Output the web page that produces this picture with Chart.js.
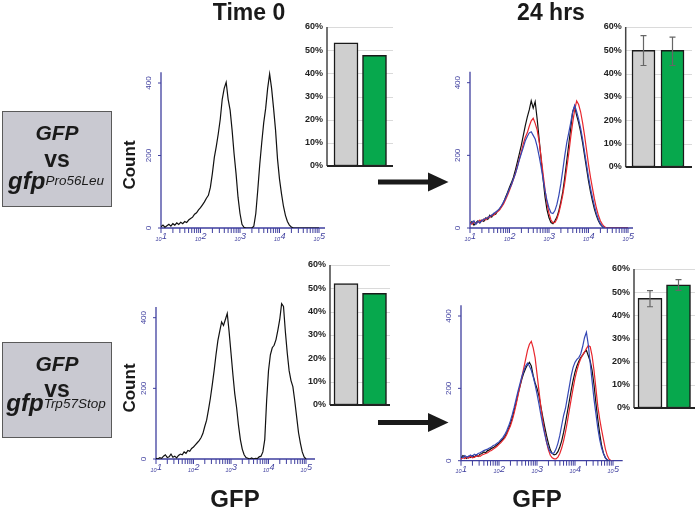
<!DOCTYPE html>
<html><head><meta charset="utf-8">
<script src="https://cdn.jsdelivr.net/npm/chart.js@4.4.1/dist/chart.umd.min.js"></script>
<style>
html,body{margin:0;padding:0;background:#fff}
#wrap{position:relative;width:696px;height:509px;overflow:hidden;font-family:"Liberation Sans",Arial,Helvetica,sans-serif;color:#1a1a1a}
#wrap canvas{position:absolute;left:0;top:0}
.t{position:absolute;white-space:nowrap;line-height:1;font-weight:bold}
.box{position:absolute;background:#c9c9d1;border:1px solid #5a5a5a;box-sizing:border-box}
</style></head>
<body><div id="wrap">
<div class="box" style="left:2px;top:111px;width:110px;height:96px"></div>
<div class="box" style="left:2px;top:342px;width:110px;height:96px"></div>
<canvas id="h1" width="696" height="509"></canvas>
<canvas id="h2" width="696" height="509"></canvas>
<canvas id="h3" width="696" height="509"></canvas>
<canvas id="h4" width="696" height="509"></canvas>
<canvas id="b1" width="696" height="509"></canvas>
<canvas id="b2" width="696" height="509"></canvas>
<canvas id="b3" width="696" height="509"></canvas>
<canvas id="b4" width="696" height="509"></canvas>
<svg width="696" height="509" style="position:absolute;left:0;top:0">
<rect x="378" y="179.5" width="52" height="5" fill="#1a1a1a"/>
<polygon points="428,172.5 448.5,182 428,191.5" fill="#1a1a1a"/>
<rect x="378" y="420" width="52" height="5" fill="#1a1a1a"/>
<polygon points="428,413 448.5,422.5 428,432" fill="#1a1a1a"/>
</svg>
</div>
<script>
// ---------- DATA ----------
const BINS = [1.00,1.05,1.10,1.15,1.20,1.25,1.30,1.35,1.40,1.45,
  1.50,1.55,1.60,1.65,1.70,1.75,1.80,1.85,1.90,1.95,
  2.00,2.05,2.10,2.15,2.20,2.25,2.30,2.35,2.40,2.45,
  2.50,2.55,2.60,2.65,2.70,2.75,2.80,2.85,2.90,2.95,
  3.00,3.05,3.10,3.15,3.20,3.25,3.30,3.35,3.40,3.45,
  3.50,3.55,3.60,3.65,3.70,3.75,3.80,3.85,3.90,3.95,
  4.00,4.05,4.10,4.15,4.20,4.25,4.30,4.35,4.40,4.45,
  4.50,4.55,4.60,4.65,4.70,4.75,4.80,4.85,4.90,4.95,5.00];

const T0_TOP = [3,8,2,6,10,5,12,8,14,10,
  16,12,18,15,22,26,30,38,42,50,
  56,64,72,82,90,112,150,195,225,260,
  300,355,385,402,355,325,270,205,150,85,
  40,10,2,0,0,0,0,5,40,105,
  175,235,290,330,385,425,385,330,270,190,
  135,95,60,35,18,8,3,0,0,0,
  0,0,0,0,0,0,0,0,0,0,0];

const T24_TOP_BLACK = [12,18,8,15,20,14,22,18,28,24,
  35,30,40,38,48,52,60,70,85,98,
  112,125,140,160,182,205,228,255,282,305,
  325,350,330,348,300,245,190,135,85,50,
  28,15,12,20,30,48,72,100,140,185,
  230,275,320,335,310,290,265,235,200,165,
  130,100,75,52,34,20,10,4,0,0,
  0,0,0,0,0,0,0,0,0,0,0];
const T24_TOP_RED = [15,10,18,12,16,22,18,25,22,30,
  28,36,34,42,45,50,58,66,78,90,
  104,118,134,150,170,190,210,232,250,262,
  280,295,302,288,270,238,195,150,105,68,
  40,22,14,15,25,42,65,92,125,165,
  205,250,290,325,350,340,320,290,255,215,
  175,140,110,80,55,35,20,10,4,0,
  0,0,0,0,0,0,0,0,0,0,0];
const T24_TOP_BLUE = [10,14,20,10,18,15,20,24,26,28,
  32,35,40,44,48,54,62,72,82,95,
  108,120,135,150,168,188,205,222,240,252,
  262,265,255,245,225,198,168,135,102,75,
  55,42,40,48,65,90,122,160,200,235,
  262,290,320,338,320,300,275,245,210,175,
  140,110,85,60,40,24,12,5,0,0,
  0,0,0,0,0,0,0,0,0,0,0];

const T0_BOT = [2,0,4,2,8,12,4,6,14,5,
  8,3,10,14,12,20,16,24,22,30,
  34,40,46,52,60,72,92,110,140,172,
  210,250,295,335,362,388,378,395,412,360,
  300,240,185,145,95,55,28,12,4,2,
  0,3,0,2,1,6,8,20,55,165,
  250,295,315,322,338,365,395,440,432,360,
  300,250,222,205,165,120,75,45,20,6,0];

const T24_BOT_BLACK = [8,14,10,6,12,9,14,10,16,12,
  18,20,24,22,28,30,34,36,40,44,
  48,54,60,66,76,88,102,118,140,160,
  185,205,225,242,255,265,272,262,235,215,
  200,180,150,122,95,70,48,30,20,16,
  18,25,38,55,78,105,135,165,195,222,
  245,262,275,285,292,300,305,290,275,250,
  210,160,115,75,42,20,8,2,0,0,0];
const T24_BOT_RED = [5,8,6,10,7,12,8,10,12,14,
  12,16,18,20,22,26,28,32,36,40,
  45,50,56,62,72,84,96,112,132,155,
  180,205,230,255,280,305,322,330,312,285,
  240,195,150,112,80,52,30,15,8,5,
  5,10,20,35,55,80,108,140,170,200,
  228,250,268,282,292,300,310,318,315,290,
  250,200,150,115,85,58,32,14,4,0,0];
const T24_BOT_BLUE = [12,8,14,10,12,16,12,18,15,20,
  22,25,28,30,32,35,38,42,44,48,
  52,58,64,72,82,95,110,128,148,170,
  192,212,232,248,262,270,262,250,232,210,
  185,158,128,100,75,52,35,24,20,22,
  32,48,70,98,125,145,175,205,235,258,
  272,280,285,295,315,340,355,320,270,220,
  170,130,90,58,35,20,8,2,0,0,0];

const HIST_Y_TICKS = [0, 200, 400];
const HIST_DECADES = [1, 2, 3, 4, 5];
const DECADE_EXP = ['1', '2', '3', '4', '5'];

const BAR_CATS = ['GFP', 'gfp mutant'];
const BAR_TICKS = [0, 10, 20, 30, 40, 50, 60];
const BAR_T0_TOP = [53.2, 47.8];
const BAR_24_TOP = [50.0, 50.0];
const BAR_24_TOP_LOW = [43.5, 43.5];
const BAR_24_TOP_HIGH = [56.3, 55.7];
const BAR_T0_BOT = [52.0, 47.9];
const BAR_24_BOT = [47.3, 53.2];
const BAR_24_BOT_LOW = [43.7, 50.8];
const BAR_24_BOT_HIGH = [50.7, 55.4];

// ---------- STYLE ----------
const AXIS_BLUE = '#3f3f9f';
const C_BLACK = '#111111', C_RED = '#e8262d', C_BLUE = '#3548b5';
const BAR_FILLS = ['#cfcfcf', '#07a84d'];
const FONT = '"Liberation Sans", Arial, sans-serif';

function flowAxes(axisTop) {
  return {
    id: 'flowAxes',
    beforeDatasetsDraw(chart) {
      const ctx = chart.ctx, xs = chart.scales.x, ys = chart.scales.y;
      const x0 = xs.getPixelForValue(xs.min), x1 = xs.getPixelForValue(xs.max);
      const y0 = ys.getPixelForValue(0), yT = ys.getPixelForValue(axisTop);
      ctx.save();
      ctx.strokeStyle = AXIS_BLUE; ctx.fillStyle = AXIS_BLUE;
      ctx.lineWidth = 1.3;
      ctx.beginPath(); ctx.moveTo(x0, yT); ctx.lineTo(x0, y0); ctx.lineTo(x1, y0); ctx.stroke();
      ctx.lineWidth = 1;
      for (const v of HIST_Y_TICKS) {
        const y = ys.getPixelForValue(v);
        ctx.beginPath(); ctx.moveTo(x0 - 3, y); ctx.lineTo(x0, y); ctx.stroke();
        ctx.save(); ctx.translate(x0 - 12.5, y); ctx.rotate(-Math.PI / 2);
        ctx.font = '8px ' + FONT; ctx.textAlign = 'center'; ctx.textBaseline = 'middle';
        ctx.fillText(String(v), 0, 0); ctx.restore();
      }
      for (let d = 1; d <= 5; d++) {
        for (let k = 1; k <= 9; k++) {
          if (d === 5 && k > 1) break;
          const x = xs.getPixelForValue(d + Math.log10(k));
          ctx.beginPath(); ctx.moveTo(x, y0); ctx.lineTo(x, y0 + 5); ctx.stroke();
        }
      }
      ctx.textBaseline = 'alphabetic'; ctx.textAlign = 'left';
      HIST_DECADES.forEach((d, i) => {
        const x = xs.getPixelForValue(d);
        ctx.font = 'italic 5.5px ' + FONT; const w1 = ctx.measureText('10').width;
        ctx.font = 'italic 9px ' + FONT; const w2 = ctx.measureText(DECADE_EXP[i]).width;
        const sx = x - (w1 + w2) / 2;
        ctx.font = 'italic 5.5px ' + FONT; ctx.fillText('10', sx, y0 + 12.5);
        ctx.font = 'italic 9px ' + FONT; ctx.fillText(DECADE_EXP[i], sx + w1 + 0.5, y0 + 11.3);
      });
      ctx.restore();
    }
  };
}

function histChart(id, box, series) {
  const xMax = 1 + (box.right - box.left) / box.dec;
  const yMax = 450;
  const top = box.bottom - yMax * box.per400 / 400;
  new Chart(document.getElementById(id), {
    type: 'line',
    data: { datasets: series.map(s => ({
      data: BINS.map((x, i) => ({ x: x, y: s.values[i] })),
      borderColor: s.color, borderWidth: 1.2, pointRadius: 0, tension: 0, fill: false
    })) },
    options: {
      responsive: false, animation: false, events: [],
      layout: { padding: { left: box.left, top: top, right: 696 - box.right, bottom: 509 - box.bottom } },
      plugins: { legend: { display: false }, tooltip: { enabled: false } },
      scales: {
        x: { type: 'linear', min: 1, max: xMax, display: false, offset: false },
        y: { type: 'linear', min: 0, max: yMax, display: false }
      }
    },
    plugins: [flowAxes(430)]
  });
}

function barAxes(low, high) {
  return {
    id: 'barAxes',
    beforeDatasetsDraw(chart) {
      const ctx = chart.ctx, ys = chart.scales.y, L = chart.chartArea.left, R = chart.chartArea.right;
      ctx.save();
      ctx.strokeStyle = '#dadada'; ctx.lineWidth = 1;
      for (const v of BAR_TICKS) {
        if (v === 0) continue;
        const y = Math.round(ys.getPixelForValue(v)) + 0.5;
        ctx.beginPath(); ctx.moveTo(L, y); ctx.lineTo(R, y); ctx.stroke();
      }
      ctx.fillStyle = '#222'; ctx.font = 'bold 9px ' + FONT;
      ctx.textAlign = 'right'; ctx.textBaseline = 'middle';
      for (const v of BAR_TICKS) ctx.fillText(v + '%', L - 4, ys.getPixelForValue(v));
      ctx.restore();
    },
    afterDatasetsDraw(chart) {
      const ctx = chart.ctx, xs = chart.scales.x, ys = chart.scales.y, L = chart.chartArea.left, R = chart.chartArea.right;
      ctx.save();
      if (low && high) {
        ctx.strokeStyle = '#666'; ctx.lineWidth = 1.2;
        for (let i = 0; i < low.length; i++) {
          const x = xs.getPixelForValue(i), yl = ys.getPixelForValue(low[i]), yh = ys.getPixelForValue(high[i]);
          ctx.beginPath();
          ctx.moveTo(x, yl); ctx.lineTo(x, yh);
          ctx.moveTo(x - 3, yl); ctx.lineTo(x + 3, yl);
          ctx.moveTo(x - 3, yh); ctx.lineTo(x + 3, yh);
          ctx.stroke();
        }
      }
      ctx.strokeStyle = '#444'; ctx.lineWidth = 1.5;
      ctx.beginPath(); ctx.moveTo(L, ys.getPixelForValue(60)); ctx.lineTo(L, ys.getPixelForValue(0)); ctx.stroke();
      ctx.strokeStyle = '#222'; ctx.lineWidth = 2;
      ctx.beginPath(); ctx.moveTo(L, ys.getPixelForValue(0)); ctx.lineTo(R, ys.getPixelForValue(0)); ctx.stroke();
      ctx.restore();
    }
  };
}

function barChart(id, box, values, low, high) {
  const u = box.c2 - box.c1;
  const xMin = -(box.c1 - box.axisX) / u, xMax = 1 + (box.right - box.c2) / u;
  new Chart(document.getElementById(id), {
    type: 'bar',
    data: { datasets: [{
      label: BAR_CATS.join(' / '),
      data: values.map((v, i) => ({ x: i, y: v })),
      backgroundColor: BAR_FILLS, borderColor: '#1a1a1a', borderWidth: 1.5,
      barThickness: box.bw, borderSkipped: false
    }] },
    options: {
      responsive: false, animation: false, events: [],
      layout: { padding: { left: box.axisX, top: box.top, right: 696 - box.right, bottom: 509 - box.bottom } },
      plugins: { legend: { display: false }, tooltip: { enabled: false } },
      scales: {
        x: { type: 'linear', min: xMin, max: xMax, display: false, offset: false, grid: { offset: false } },
        y: { type: 'linear', min: 0, max: 60, display: false }
      }
    },
    plugins: [barAxes(low, high)]
  });
}

histChart('h1', { left: 161, right: 325, bottom: 228, dec: 39.5, per400: 145 },
  [{ values: T0_TOP, color: C_BLACK }]);
histChart('h2', { left: 470, right: 633, bottom: 228, dec: 39.5, per400: 145.3 },
  [{ values: T24_TOP_BLUE, color: C_BLUE }, { values: T24_TOP_RED, color: C_RED }, { values: T24_TOP_BLACK, color: C_BLACK }]);
histChart('h3', { left: 156, right: 315, bottom: 459, dec: 37.5, per400: 141.3 },
  [{ values: T0_BOT, color: C_BLACK }]);
histChart('h4', { left: 461, right: 622.7, bottom: 460.7, dec: 38, per400: 144.7 },
  [{ values: T24_BOT_BLUE, color: C_BLUE }, { values: T24_BOT_RED, color: C_RED }, { values: T24_BOT_BLACK, color: C_BLACK }]);

barChart('b1', { axisX: 327, top: 27, bottom: 166, right: 393, c1: 346, c2: 374.5, bw: 24 }, BAR_T0_TOP);
barChart('b2', { axisX: 625.7, top: 27, bottom: 167, right: 692, c1: 643.5, c2: 672.5, bw: 23 }, BAR_24_TOP, BAR_24_TOP_LOW, BAR_24_TOP_HIGH);
barChart('b3', { axisX: 330, top: 265, bottom: 405, right: 390, c1: 346, c2: 374.5, bw: 24 }, BAR_T0_BOT);
barChart('b4', { axisX: 634, top: 269, bottom: 408, right: 695, c1: 650, c2: 678.5, bw: 24 }, BAR_24_BOT, BAR_24_BOT_LOW, BAR_24_BOT_HIGH);

// ---------- TEXT ----------
const wrap = document.getElementById('wrap');
function addText(html, cx, baseline, size, style) {
  const d = document.createElement('div');
  d.className = 't';
  d.innerHTML = html;
  d.style.fontSize = size + 'px';
  d.style.left = cx + 'px';
  d.style.top = (baseline - 0.8465 * size) + 'px';
  d.style.transform = 'translateX(-50%)';
  if (style) Object.assign(d.style, style);
  wrap.appendChild(d);
  return d;
}
function addRot(text, cx, cy, size) {
  const d = document.createElement('div');
  d.className = 't'; d.textContent = text; d.style.fontSize = size + 'px';
  d.style.left = cx + 'px'; d.style.top = cy + 'px';
  d.style.transform = 'translate(-50%,-50%) rotate(-90deg)';
  wrap.appendChild(d);
}
addText('Time 0', 249, 20, 23);
addText('24 hrs', 551, 20, 23);
addText('GFP', 235, 507, 24);
addText('GFP', 537, 507, 24);
addRot('Count', 128.5, 165, 17);
addRot('Count', 128.5, 388, 17);

const SUP = 'font-size:13.5px;font-weight:normal;font-style:italic;position:relative;top:-4px';
addText('GFP', 57, 140, 21, { fontStyle: 'italic' });
addText('vs', 57, 167, 23);
addText('<i>gfp</i><span style="' + SUP + '">Pro56Leu</span>', 56, 189.5, 24);
addText('GFP', 57, 370.5, 21, { fontStyle: 'italic' });
addText('vs', 57, 397, 23);
addText('<i>gfp</i><span style="' + SUP + ';top:-3px">Trp57Stop</span>', 56, 411.5, 24);
</script>
</body></html>
